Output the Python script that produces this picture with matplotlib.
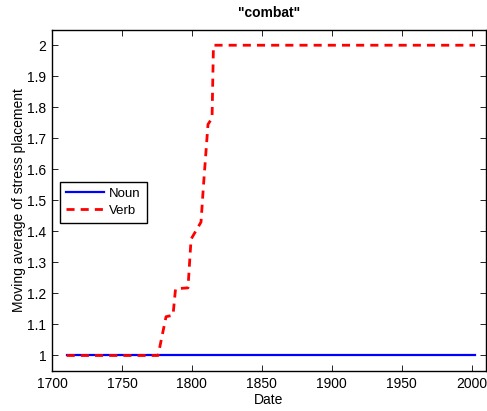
import matplotlib
matplotlib.use("Agg")
import matplotlib.pyplot as plt

plt.rcParams['font.family'] = ['Liberation Sans', 'DejaVu Sans']

title = '"combat"'
noun_years = [1710.5, 2002.4]
noun_vals = [1.0, 1.0]
verb_years = [1710.5, 1775.8, 1781.5, 1786.5, 1788.3, 1797.2, 1799.4, 1806.5,
              1808.3, 1811.5, 1814.4, 1815.4, 2002.4]
verb_vals = [1.0, 1.0, 1.125, 1.13, 1.215, 1.218, 1.375, 1.43,
             1.55, 1.745, 1.765, 2.0, 2.0]
x_ticks = [1700, 1750, 1800, 1850, 1900, 1950, 2000]
y_ticks = [1, 1.1, 1.2, 1.3, 1.4, 1.5, 1.6, 1.7, 1.8, 1.9, 2]
y_labels = ['1', '1.1', '1.2', '1.3', '1.4', '1.5', '1.6', '1.7', '1.8', '1.9', '2']

fig = plt.figure(figsize=(4.87, 4.11), dpi=100)
ax = fig.add_axes([0.1068, 0.0973, 0.8905, 0.8304])

ax.plot(noun_years, noun_vals, color=(0, 0, 1), lw=1.6, label='Noun')
ax.plot(verb_years, verb_vals, color=(1, 0, 0), lw=2.0, dashes=(2.9, 2.2), label='Verb')

ax.set_xlim(1700, 2010)
ax.set_ylim(0.95, 2.05)
ax.set_xticks(x_ticks)
ax.set_xticklabels([str(t) for t in x_ticks])
ax.set_yticks(y_ticks)
ax.set_yticklabels(y_labels)
ax.tick_params(direction='in', top=True, right=True, length=4, width=0.6, labelsize=10, pad=4)
for s in ax.spines.values():
    s.set_linewidth(1.0)

ax.set_xlabel('Date', fontsize=10, labelpad=2)
ax.set_ylabel('Moving average of stress placement', fontsize=10, labelpad=1)
ax.set_title(title, fontsize=10, fontweight='bold', pad=9)

leg = ax.legend(loc='lower left', bbox_to_anchor=(0.018, 0.434), fontsize=9.5,
                frameon=True, fancybox=False, edgecolor='black', framealpha=1,
                handlelength=2.9, borderpad=0.45, labelspacing=0.35, handletextpad=0.4,
                borderaxespad=0)
leg.get_frame().set_linewidth(1.0)

fig.savefig('out.png', dpi=100)
